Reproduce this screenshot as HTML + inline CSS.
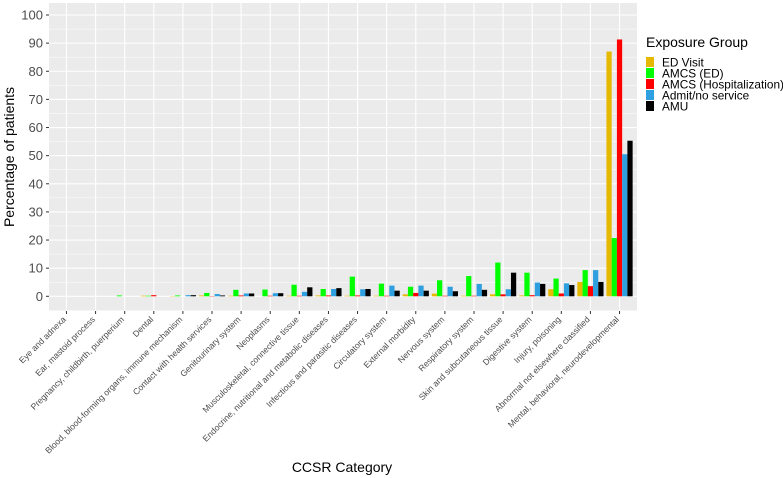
<!DOCTYPE html>
<html><head><meta charset="utf-8"><style>
body{margin:0;background:#fff;}
svg{display:block;font-family:"Liberation Sans",sans-serif;}
</style></head><body>
<svg id="chart" width="783" height="478">
<rect x="49" y="3" width="588" height="308" fill="#ebebeb"/>
<g id="grid"></g><g id="bars"></g><g id="axes"></g>
<text x="342" y="472" font-size="14" text-anchor="middle" fill="#000">CCSR Category</text>
<text transform="translate(14,157) rotate(-90)" font-size="14" text-anchor="middle" fill="#000">Percentage of patients</text>
<g id="legend">
<text x="646" y="47" font-size="14" fill="#000">Exposure Group</text>
</g>
</svg>
<script>
const categories=["Eye and adnexa","Ear, mastoid process","Pregnancy, childbirth, puerperium","Dental","Blood, blood-forming organs, immune mechanism","Contact with health services","Genitourinary system","Neoplasms","Musculoskeletal, connective tissue","Endocrine, nutritional and metabolic diseases","Infectious and parasitic diseases","Circulatory system","External morbidity","Nervous system","Respiratory system","Skin and subcutaneous tissue","Digestive system","Injury, poisoning","Abnormal not elsewhere classified","Mental, behavioral, neurodevelopmental"];
const seriesNames=["ED Visit","AMCS (ED)","AMCS (Hospitalization)","Admit/no service","AMU"];
const seriesColors=["#E7B800","#00FF00","#FF0000","#2E9FDF","#000000"];
const edVisit=[0,0,0,0.2,0.1,0.3,0.2,0,0.2,0.3,0.2,0.2,0.7,0.95,0.2,0.7,0.3,2.5,5.1,87];
const amcsEd=[0,0,0.3,0.2,0.3,1.2,2.3,2.4,4.1,2.6,7.0,4.5,3.4,5.7,7.2,12.0,8.4,6.3,9.3,20.7];
const amcsHosp=[0,0,0,0.4,0,0.1,0.3,0.2,0.2,0.3,0.3,0.2,1.2,0.2,0.2,0.7,0.4,1.0,3.6,91.3];
const admit=[0,0,0,0,0.4,0.8,1.0,1.1,1.6,2.6,2.5,3.8,3.8,3.4,4.4,2.5,4.9,4.6,9.3,50.5];
const amu=[0,0,0,0,0.4,0.3,1.0,1.1,3.2,2.9,2.6,2.0,2.0,1.8,2.3,8.4,4.4,4.0,5.1,55.3];
const yTicks=[0,10,20,30,40,50,60,70,80,90,100];
const series=[edVisit,amcsEd,amcsHosp,admit,amu];
const NS="http://www.w3.org/2000/svg";
const L=49,R=637,T=3,B=311,Y0=296.3,Y100=15;
const step=(R-L)/(categories.length+0.2);
const xC=i=>L+step*(0.6+i);
const yS=v=>Y0-(Y0-Y100)*v/100;
function mk(tag,attrs,parent){const e=document.createElementNS(NS,tag);for(const k in attrs)e.setAttribute(k,attrs[k]);document.getElementById(parent).appendChild(e);return e;}
for(let v=-5;v<=105;v+=5){const y=yS(v);if(y<T||y>B)continue;
 const g=mk('line',{x1:L,x2:R,y1:y,y2:y,stroke:'#fff','stroke-width':v%10===0?1.1:0.5},'grid');
 
 }
categories.forEach((c,i)=>{const x=xC(i);
 const g=mk('line',{x1:x,x2:x,y1:T,y2:B,stroke:'#fff','stroke-width':1.1},'grid');
 
 
 const t=mk('line',{x1:x,x2:x,y1:B,y2:B+3,stroke:'#333','stroke-width':1},'axes');
 
 
 const lb=mk('text',{transform:`translate(${x},${B+9}) rotate(-45)`,'text-anchor':'end','font-size':8.6,fill:'#4d4d4d'},'axes');
 lb.textContent=c;
 
 });
yTicks.forEach(v=>{const y=yS(v);
 const t=mk('line',{x1:L-3,x2:L,y1:y,y2:y,stroke:'#333'},'axes');
 
 
 const lb=mk('text',{x:L-6,y:y+4.5,'text-anchor':'end','font-size':13,fill:'#4d4d4d'},'axes');
 lb.textContent=v;
 
 });
const bw=step*0.9/series.length;
series.forEach((s,j)=>{s.forEach((v,i)=>{if(v<=0)return;
 const x=xC(i)-step*0.45+j*bw;
 const r=mk('rect',{x:x,y:yS(v),width:bw,height:Y0-yS(v),fill:seriesColors[j]},'bars');
 
 });});
seriesNames.forEach((n,j)=>{const y=57+j*11;
 const r=mk('rect',{x:646,y:y,width:8,height:10,fill:seriesColors[j]},'legend');
 
 
 const t=mk('text',{x:662,y:y+9.5,'font-size':11.8,fill:'#000'},'legend');
 t.textContent=n;
 
 });
</script>
</body></html>
